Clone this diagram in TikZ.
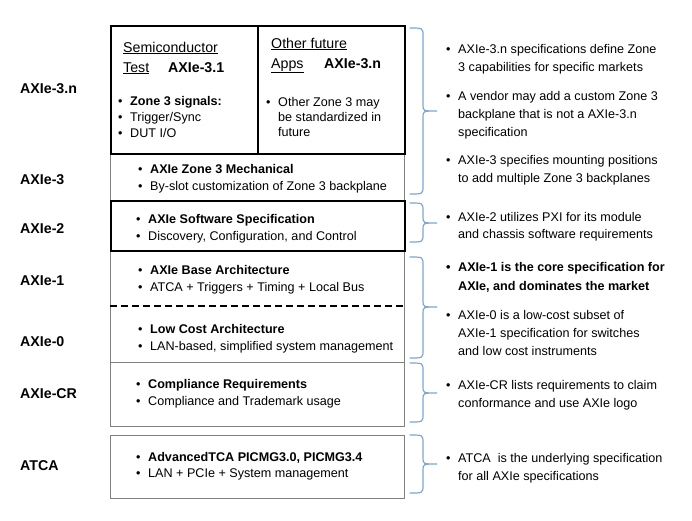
\documentclass[tikz,border=0pt]{standalone}
\usepackage{fontspec}
\setmainfont{Liberation Sans}
\definecolor{boxgray}{RGB}{128,128,128}
\definecolor{braceblue}{RGB}{125,165,215}
\newcommand\bul{\makebox[12pt][l]{\textbullet}}
\newcommand\ind{\hspace*{12pt}}
\newcommand\drawbrace[3]{%
  \draw[bracestyle] (410,#1) .. controls (423,#1) .. (423,#1+8) -- (423,#3-6)
    .. controls (423,#3) .. (437,#3) .. controls (423,#3) .. (423,#3+6)
    -- (423,#2-8) .. controls (423,#2) .. (410,#2);}
\begin{document}
\begin{tikzpicture}[x=1pt,y=-1pt,
  graybox/.style={draw=boxgray,line width=1.2pt,inner sep=0pt,anchor=north west},
  blackbox/.style={draw=black,line width=1.5pt,inner sep=0pt,anchor=north west},
  body/.style={font=\fontsize{12.6}{17}\selectfont, anchor=base west, inner sep=0pt, align=left},
  rbody/.style={body, font=\fontsize{12.6}{18}\selectfont},
  lab/.style={font=\fontsize{14.2}{17}\selectfont\bfseries, anchor=base west, inner sep=0pt},
  head/.style={font=\fontsize{14.2}{20}\selectfont, anchor=base west, inner sep=0pt},
  bracestyle/.style={draw=braceblue, line width=1.2pt, line cap=round},
  dashline/.style={draw=black, line width=2pt, dash pattern=on 7pt off 4pt}]
\useasboundingbox (0,0) rectangle (692,520);
\fill[white] (0,0) rectangle (692,520);

% boxes
\node[graybox, minimum width=294pt, minimum height=47pt] (b3) at (110,153) {};
\node[graybox, minimum width=294pt, minimum height=112pt] (b10) at (110,250) {};
\node[graybox, minimum width=294pt, minimum height=64pt] (bcr) at (110,362) {};
\node[graybox, minimum width=294pt, minimum height=63pt] (batca) at (110,435) {};
\node[blackbox, minimum width=294pt, minimum height=128pt] (b3n) at (110,25) {};
\node[blackbox, minimum width=294pt, minimum height=50pt] (b2) at (110,200) {};
\draw[draw=black, line width=1.5pt] (b3n.north) -- (b3n.south);
\coordinate (d1) at (110,306);
\coordinate (d2) at (404,306);
\draw[dashline] (d1) -- (d2);

% left labels
\node[lab] (l3n) at (20,93) {AXIe-3.n};
\node[lab] (l3) at (20,184) {AXIe-3};
\node[lab] (l2) at (20,233) {AXIe-2};
\node[lab] (l1) at (20,285) {AXIe-1};
\node[lab] (l0) at (20,346) {AXIe-0};
\node[lab] (lcr) at (20,398) {AXIe-CR};
\node[lab] (latca) at (20,470) {ATCA};

% top box headings
\node[head] (semi) at (123,52) {\underline{Semiconductor}};
\node[head] (test) at (123,72) {\underline{Test}};
\node[head,font=\fontsize{14.2}{20}\selectfont\bfseries] (ax31) at (168,72) {AXIe-3.1};
\node[head] (other) at (271,48) {\underline{Other future}};
\node[head] (apps) at (271,68) {\underline{Apps}};
\node[head,font=\fontsize{14.2}{20}\selectfont\bfseries] (ax3n) at (324,68) {AXIe-3.n};

% box texts (base anchor = baseline of last line)
\node[body,font=\fontsize{12.6}{16}\selectfont] (zs) at (118,137.5)
  {\bul\textbf{Zone 3 signals:}\\\bul Trigger/Sync\\\bul DUT I/O};
\node[body,font=\fontsize{12.6}{15}\selectfont] (oz) at (266,136.5)
  {\bul Other Zone 3 may\\\ind be standardized in\\\ind future};
\node[body] (mech) at (138,190.5)
  {\bul\textbf{AXIe Zone 3 Mechanical}\\\bul By-slot customization of Zone 3 backplane};
\node[body] (sw) at (136,240.5)
  {\bul\textbf{AXIe Software Specification}\\\bul Discovery, Configuration, and Control};
\node[body] (base) at (138,291.5)
  {\bul\textbf{AXIe Base Architecture}\\\bul ATCA + Triggers + Timing + Local Bus};
\node[body] (low) at (138,350.5)
  {\bul\textbf{Low Cost Architecture}\\\bul LAN-based, simplified system management};
\node[body] (comp) at (136,405.5)
  {\bul\textbf{Compliance Requirements}\\\bul Compliance and Trademark usage};
\node[body,font=\fontsize{12.6}{16}\selectfont] (atca) at (136,477.5)
  {\bul\textbf{AdvancedTCA PICMG3.0, PICMG3.4}\\\bul LAN + PCIe + System management};

% braces
\drawbrace{28}{194}{111}
\drawbrace{203}{242}{223}
\drawbrace{257}{358}{307}
\drawbrace{363}{422}{393}
\drawbrace{435}{493}{464}

% right texts
\node[rbody] (r1) at (446,71.5)
  {\bul AXIe-3.n specifications define Zone\\\ind 3 capabilities for specific markets};
\node[rbody] (r2) at (446,136.5)
  {\bul A vendor may add a custom Zone 3\\\ind backplane that is not a AXIe-3.n\\\ind specification};
\node[rbody] (r3) at (446,182.5)
  {\bul AXIe-3 specifies mounting positions\\\ind to add multiple Zone 3 backplanes};
\node[rbody,font=\fontsize{12.6}{17}\selectfont] (r4) at (446,238.5)
  {\bul AXIe-2 utilizes PXI for its module\\\ind and chassis software requirements};
\node[rbody,font=\fontsize{12.6}{18.5}\selectfont\bfseries] (r5) at (446,290)
  {\bul AXIe-1 is the core specification for\\\ind AXIe, and dominates the market};
\node[rbody] (r6) at (446,355.5)
  {\bul AXIe-0 is a low-cost subset of\\\ind AXIe-1 specification for switches\\\ind and low cost instruments};
\node[rbody] (r7) at (446,407.5)
  {\bul AXIe-CR lists requirements to claim\\\ind conformance and use AXIe logo};
\node[rbody] (r8) at (446,480.5)
  {\bul ATCA\ \ is the underlying specification\\\ind for all AXIe specifications};
\end{tikzpicture}
\end{document}
